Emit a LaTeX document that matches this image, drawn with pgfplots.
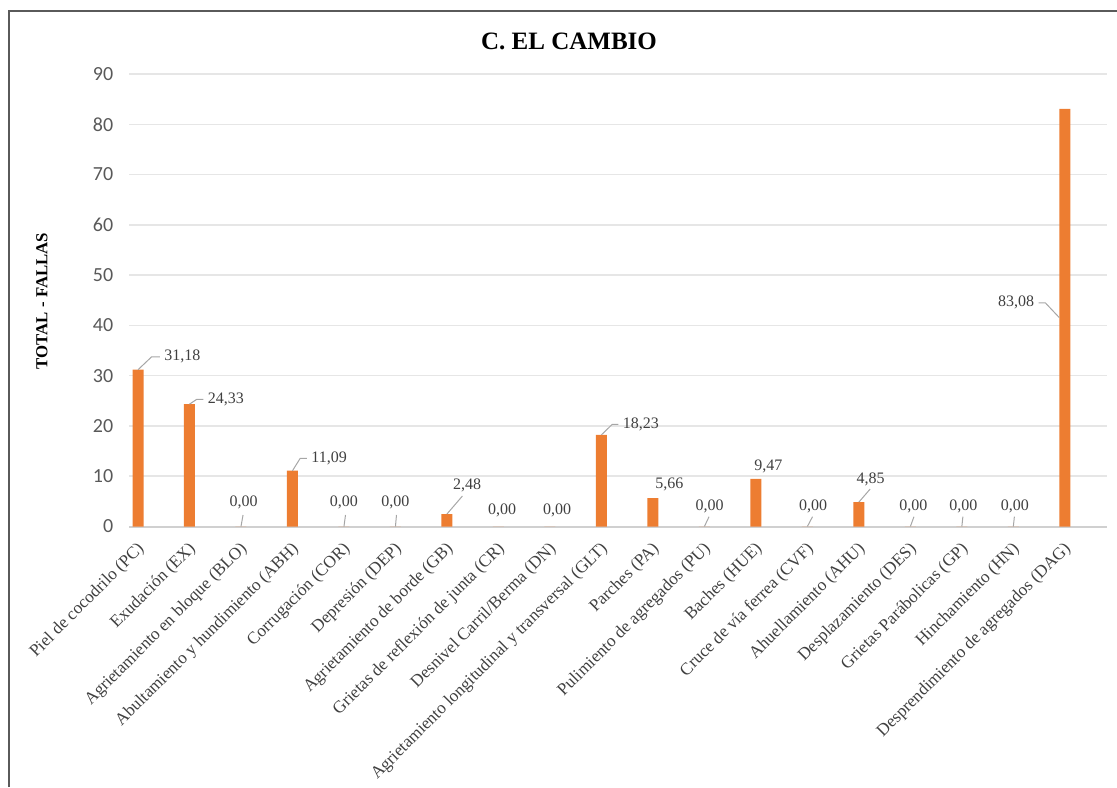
\documentclass[border=0pt]{standalone}
\usepackage{fontspec}
\setmainfont{Liberation Serif}
\newfontfamily\tickfont{Carlito}
\usepackage{pgfplots}
\pgfplotsset{compat=1.18}
\usepackage{pgfplotstable}

\definecolor{barorange}{HTML}{ED7D31}
\definecolor{gridgray}{HTML}{E6E6E6}
\definecolor{axisgray}{HTML}{D0D0D0}
\definecolor{leadergray}{HTML}{A6A6A6}
\definecolor{labelgray}{HTML}{404040}
\definecolor{tickgray}{HTML}{595959}
\definecolor{framegray}{HTML}{5A5A5A}

\tikzset{
  lbl/.style={font=\fontsize{8}{10}\selectfont, text=labelgray, inner sep=2pt},
  ldr/.style={leadergray, line width=0.5pt},
}

% total de fallas por tipo (indice de categoria, valor)
\pgfplotstableread{
idx value
0  31.18
1  24.33
2  0.00
3  11.09
4  0.00
5  0.00
6  2.48
7  0.00
8  0.00
9  18.23
10 5.66
11 0.00
12 9.47
13 0.00
14 4.85
15 0.00
16 0.00
17 0.00
18 83.08
}\fallas

\begin{document}
\begin{tikzpicture}
\useasboundingbox (0,0) rectangle (558.5pt,393.5pt);

% marco
\draw[framegray, line width=1pt] (4.5pt,0) -- (4.5pt,388pt) -- (558.5pt,388pt);

% titulo y etiqueta del eje
\node[font=\bfseries\fontsize{12.5}{15}\selectfont] at (284.5pt,373pt) {C. EL CAMBIO};
\node[rotate=90, font=\bfseries\fontsize{8.4}{10}\selectfont] at (21pt,243pt) {TOTAL - FALLAS};

\begin{axis}[
  at={(64.65pt,130.25pt)}, anchor=south west,
  scale only axis, width=489pt, height=226.25pt,
  xmin=-0.169, xmax=18.825, ymin=0, ymax=90,
  ybar, bar width=5.5pt,
  axis line style={draw=none},
  major tick length=0pt,
  ytick={0,10,...,90},
  ymajorgrids, grid style={gridgray, line width=0.75pt},
  extra y ticks={0}, extra y tick labels={},
  extra y tick style={grid style={axisgray, line width=1pt}},
  /pgf/number format/assume math mode=true,
  yticklabel style={font=\tickfont\fontsize{10}{12}\selectfont, text=tickgray, xshift=-4.5pt},
  xtick={0,...,18},
  xticklabels={
    Piel de cocodrilo (PC),
    Exudación (EX),
    Agrietamiento en bloque (BLO),
    Abultamiento y hundimiento (ABH),
    Corrugación (COR),
    Depresión (DEP),
    Agrietamiento de borde (GB),
    Grietas de reflexión de junta (CR),
    Desnivel Carril/Berma (DN),
    Agrietamiento longitudinal y transversal (GLT),
    Parches (PA),
    Pulimiento de agregados (PU),
    Baches (HUE),
    Cruce de vía ferrea (CVF),
    Ahuellamiento (AHU),
    Desplazamiento (DES),
    Grietas Parábolicas (GP),
    Hinchamiento (HN),
    Desprendimiento de agregados (DAG)},
  xticklabel style={xshift=-1pt, yshift=-5.5pt, rotate=45, anchor=north east,
    font=\fontsize{8.6}{10}\selectfont, text=labelgray, inner sep=1pt},
]
\addplot[fill=barorange, draw=none] table[x=idx, y=value] {\fallas};

% etiquetas de datos con lineas guia
\draw[ldr] (0,31.18) -- (0.266,33.76) -- (0.427,33.76) node[lbl, anchor=west] {31,18};
\draw[ldr] (1,24.33) -- (1.14,25.29) -- (1.268,25.29) node[lbl, anchor=west] {24,33};
\draw[ldr] (3,11.09) -- (3.15,13.56) -- (3.28,13.56) node[lbl, anchor=west] {11,09};
\draw[ldr] (6,2.48) -- (6.30,6.06);
\node[lbl] at (6.39,8.25) {2,48};
\draw[ldr] (9,18.23) -- (9.21,20.32) -- (9.33,20.32) node[lbl, anchor=west] {18,23};
\node[lbl] at (10.32,8.45) {5,66};
\node[lbl] at (12.24,11.89) {9,47};
\draw[ldr] (14,4.85) -- (14.22,7.46);
\node[lbl] at (14.23,9.44) {4,85};
\draw[ldr] (17.893,41.54) -- (17.621,44.49) -- (17.491,44.49) node[lbl, anchor=east] {83,08};

% etiquetas de valores nulos
\draw[ldr] (2,0) -- (2.04,2.29);   \node[lbl] at (2.05,4.87) {0,00};
\draw[ldr] (4,0) -- (4.03,2.29);   \node[lbl] at (4.0,4.87) {0,00};
\draw[ldr] (5,0) -- (5.02,2.29);   \node[lbl] at (5.0,4.87) {0,00};
\node[lbl] at (7.07,3.28) {0,00};
\node[lbl] at (8.14,3.22) {0,00};
\draw[ldr] (11,0) -- (11.09,1.95); \node[lbl] at (11.10,4.08) {0,00};
\draw[ldr] (13,0) -- (13.10,1.95); \node[lbl] at (13.11,4.08) {0,00};
\draw[ldr] (15,0) -- (15.07,1.95); \node[lbl] at (15.06,4.08) {0,00};
\draw[ldr] (16,0) -- (16.02,1.95); \node[lbl] at (16.03,4.08) {0,00};
\draw[ldr] (17,0) -- (17.02,1.95); \node[lbl] at (17.03,4.08) {0,00};
\end{axis}
\end{tikzpicture}
\end{document}
